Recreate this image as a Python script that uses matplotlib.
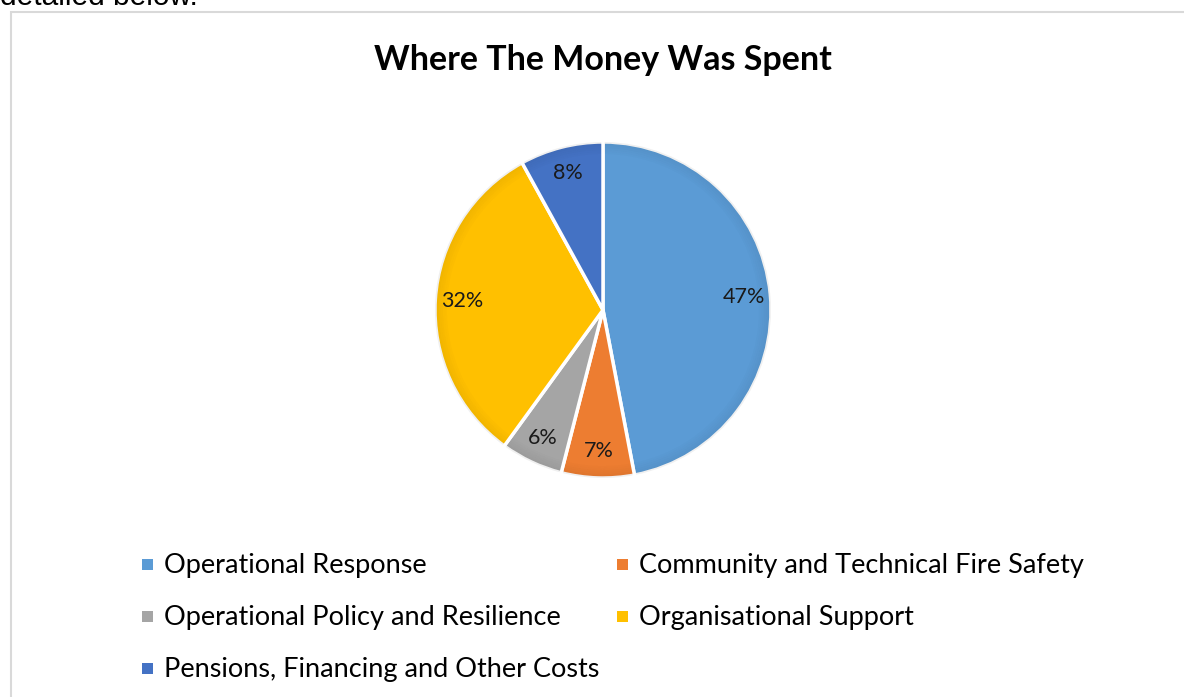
import matplotlib
matplotlib.use("Agg")
import matplotlib.pyplot as plt
from matplotlib.patches import Rectangle, Wedge
import numpy as np

categories = [
    "Operational Response",
    "Community and Technical Fire Safety",
    "Operational Policy and Resilience",
    "Organisational Support",
    "Pensions, Financing and Other Costs",
]
values = [47, 7, 6, 32, 8]
colors = ["#5B9BD5", "#ED7D31", "#A5A5A5", "#FFC000", "#4472C4"]
title = "Where The Money Was Spent"

W, H = 1184, 697
fig = plt.figure(figsize=(W / 100, H / 100), dpi=100)
plt.rcParams["font.family"] = ["Lato", "DejaVu Sans"]

# Page text cut off at top
fig.text(0.0, 1 - 5 / H, "detailed below.", fontsize=21.5, family="Liberation Sans",
         ha="left", va="baseline", color="black")

# Chart frame
fig.patches.append(Rectangle((11 / W, -0.05), 1.1, 1 - 12 / H + 0.05,
                             transform=fig.transFigure, fill=False,
                             edgecolor="#D9D9D9", lw=1.5, zorder=0))

cx, cy, R = 603, 310, 168
ax = fig.add_axes([(cx - R) / W, (H - cy - R) / H, 2 * R / W, 2 * R / H])
wedges, texts, autotexts = ax.pie(
    values, colors=colors, startangle=90, counterclock=False,
    autopct=lambda p: f"{p:.0f}%", pctdistance=0.84, radius=1,
    wedgeprops=dict(edgecolor="white", linewidth=2.5),
    textprops=dict(fontsize=15.5, color="#1a1a1a"))

# subtle rim shading
for w in wedges:
    t1, t2 = w.theta1, w.theta2
    for k in range(6):
        r_out = 1 - k * 0.012
        ax.add_patch(Wedge((0, 0), r_out, t1 + 0.6, t2 - 0.6, width=0.012,
                           facecolor="black", alpha=0.06 * (6 - k) / 6,
                           edgecolor="none", zorder=3))
for t in autotexts:
    t.set_zorder(5)

ax.set_xlim(-1, 1)
ax.set_ylim(-1, 1)
ax.axis("off")

fig.text(cx / W, 1 - 70 / H, title, fontsize=24.5, fontweight="bold",
         ha="center", va="baseline", color="black")

# Legend laid out row-major in two columns
col_x = [147, 622]
row_y = [565, 617, 669]
for i, (lab, c) in enumerate(zip(categories, colors)):
    r, col = divmod(i, 2)
    x, y = col_x[col], row_y[r]
    fig.patches.append(Rectangle(((x - 5) / W, 1 - (y + 5) / H), 11 / W, 11 / H,
                                 transform=fig.transFigure, facecolor=c,
                                 edgecolor="none"))
    fig.text((x + 17) / W, 1 - y / H, lab, fontsize=19.5, ha="left",
             va="center", color="black")

fig.savefig("out.png", dpi=100)
